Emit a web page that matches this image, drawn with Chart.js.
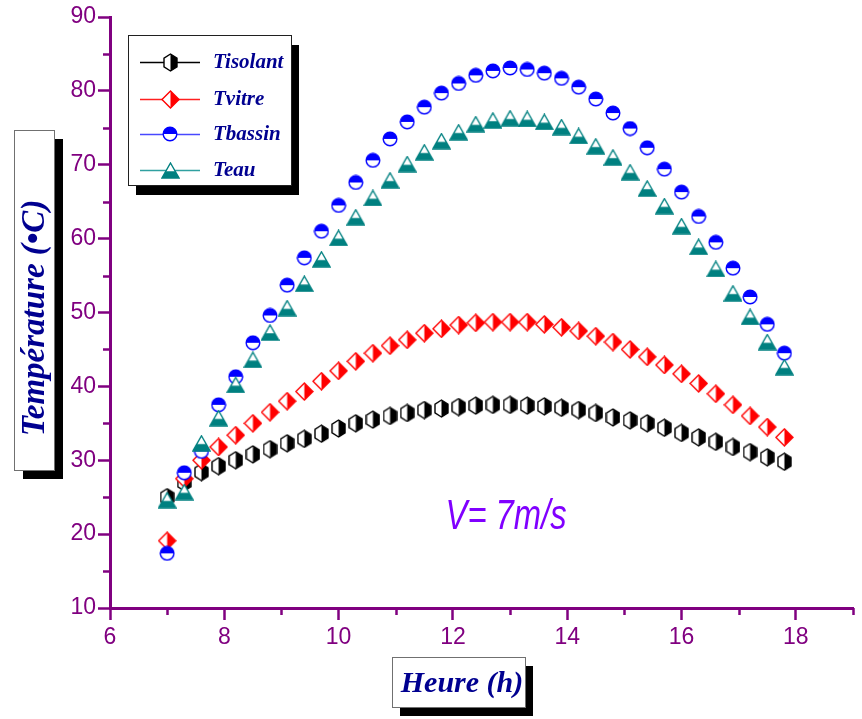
<!DOCTYPE html>
<html>
<head>
<meta charset="utf-8">
<script src="https://cdn.jsdelivr.net/npm/chart.js@4.4.1/dist/chart.umd.min.js"></script>
<style>
  html, body { margin: 0; padding: 0; background: #ffffff; }
  #wrap { width: 862px; height: 719px; }
  canvas { display: block; }
</style>
</head>
<body>
<div id="wrap"><canvas id="chart" width="862" height="719"></canvas></div>
<script>
// Time of day (h)
const hours = [7.0, 7.3, 7.6, 7.9, 8.2, 8.5, 8.8, 9.1, 9.4, 9.7, 10.0, 10.3, 10.6, 10.9, 11.2, 11.5, 11.8, 12.1, 12.4,
               12.7, 13.0, 13.3, 13.6, 13.9, 14.2, 14.5, 14.8, 15.1, 15.4, 15.7, 16.0, 16.3, 16.6, 16.9, 17.2, 17.5, 17.8];

// Temperatures (°C)
const tIsolant = [25.0, 27.0, 28.4, 29.2, 30.0, 30.8, 31.5, 32.3, 32.9, 33.6, 34.3, 35.0, 35.5, 36.0, 36.4, 36.8, 37.0, 37.2, 37.4,
                  37.5, 37.5, 37.4, 37.3, 37.1, 36.8, 36.4, 35.8, 35.4, 35.0, 34.4, 33.7, 33.1, 32.5, 31.8, 31.1, 30.4, 29.8];
const tVitre   = [19.1, 27.5, 30.0, 31.8, 33.4, 35.0, 36.5, 38.0, 39.3, 40.7, 42.1, 43.4, 44.5, 45.5, 46.3, 47.2, 47.8, 48.3, 48.6,
                  48.7, 48.7, 48.7, 48.4, 48.0, 47.5, 46.8, 46.0, 45.0, 44.0, 42.9, 41.7, 40.4, 39.0, 37.5, 36.0, 34.5, 33.1];
const tBassin  = [17.4, 28.3, 31.2, 37.5, 41.3, 45.9, 49.6, 53.7, 57.4, 61.0, 64.5, 67.6, 70.6, 73.5, 75.8, 77.8, 79.7, 81.0, 82.1,
                  82.7, 83.1, 82.9, 82.4, 81.7, 80.5, 78.9, 77.0, 74.9, 72.3, 69.4, 66.3, 63.0, 59.5, 56.0, 52.1, 48.4, 44.5];
const tEau     = [24.6, 25.7, 32.3, 35.7, 40.2, 43.6, 47.3, 50.6, 53.9, 57.2, 60.1, 62.9, 65.5, 67.9, 70.1, 71.7, 73.2, 74.4, 75.5,
                  76.0, 76.3, 76.2, 75.8, 75.1, 73.9, 72.5, 71.0, 69.0, 66.8, 64.4, 61.7, 58.9, 55.9, 52.6, 49.4, 46.0, 42.6];

const seriesNames = ['Tisolant', 'Tvitre', 'Tbassin', 'Teau'];
const xTitle = 'Heure (h)';
const yTitle = 'Température (•C)';
const speedLabel = 'V= 7m/s';
const speedLabelAt = { x: 12.93, y: 22.3 };

const AXIS = '#800080';
const NAVY = '#000090';
const SERIF = "'Liberation Serif', 'Times New Roman', serif";
const SANS = "'Liberation Sans', Arial, sans-serif";

// ---- half-filled marker glyphs ----
function marker(w, h, draw) {
  const c = document.createElement('canvas');
  c.width = w; c.height = h;
  draw(c.getContext('2d'), w, h);
  return c;
}
function halfFilled(g, w, h, path, color, clipRect) {
  path(); g.fillStyle = '#ffffff'; g.fill();
  g.save(); g.beginPath(); g.rect(...clipRect); g.clip();
  path(); g.fillStyle = color; g.fill(); g.restore();
  path(); g.lineWidth = 1.4; g.strokeStyle = color; g.stroke();
}
const hexMarker = marker(15, 19, (g, w, h) => {
  const p = () => { g.beginPath(); g.moveTo(w / 2, 1); g.lineTo(w - 1, h * 0.27); g.lineTo(w - 1, h * 0.73);
    g.lineTo(w / 2, h - 1); g.lineTo(1, h * 0.73); g.lineTo(1, h * 0.27); g.closePath(); };
  halfFilled(g, w, h, p, '#000000', [w / 2, 0, w / 2, h]);
});
const diamondMarker = marker(19, 19, (g, w, h) => {
  const p = () => { g.beginPath(); g.moveTo(w / 2, 1); g.lineTo(w - 1, h / 2); g.lineTo(w / 2, h - 1); g.lineTo(1, h / 2); g.closePath(); };
  halfFilled(g, w, h, p, '#ff0000', [w / 2, 0, w / 2, h]);
});
const circleMarker = marker(16, 16, (g, w, h) => {
  const p = () => { g.beginPath(); g.arc(w / 2, h / 2, 6.8, 0, Math.PI * 2); g.closePath(); };
  halfFilled(g, w, h, p, '#0000ff', [0, 0, w, h / 2]);
});
const triangleMarker = marker(19, 17, (g, w, h) => {
  const p = () => { g.beginPath(); g.moveTo(w / 2, 1); g.lineTo(w - 1, h - 1); g.lineTo(1, h - 1); g.closePath(); };
  halfFilled(g, w, h, p, '#008080', [0, h * 0.55, w, h]);
});

const legendLineColors = ['#000000', '#ff2020', '#4848ff', '#30a0a0'];

function pts(ys) { return hours.map((h, i) => ({ x: h, y: ys[i] })); }

// ---- decorations: minor ticks, framed titles, legend, annotation ----
function shadowBox(g, x, y, w, h, dx, dy, edge) {
  g.fillStyle = '#000000';
  g.fillRect(x + dx, y + dy, w, h);
  g.fillStyle = '#ffffff';
  g.fillRect(x, y, w, h);
  g.strokeStyle = edge; g.lineWidth = 1;
  g.strokeRect(x + 0.5, y + 0.5, w, h);
}

const decorations = {
  id: 'decorations',
  afterDraw(chart) {
    const g = chart.ctx;
    const xs = chart.scales.x, ys = chart.scales.y;

    // minor ticks
    g.save();
    g.strokeStyle = AXIS; g.lineWidth = 2.5;
    xs.ticks.forEach(t => {
      if (t.value % 2 !== 0) {
        const px = Math.round(xs.getPixelForValue(t.value)) + 0.5;
        g.beginPath(); g.moveTo(px, chart.chartArea.bottom); g.lineTo(px, chart.chartArea.bottom + 7); g.stroke();
      }
    });
    ys.ticks.forEach(t => {
      if (t.value % 10 !== 0) {
        const py = Math.round(ys.getPixelForValue(t.value)) + 0.5;
        g.beginPath(); g.moveTo(chart.chartArea.left, py); g.lineTo(chart.chartArea.left - 7, py); g.stroke();
      }
    });
    g.restore();

    // y axis title
    g.save();
    shadowBox(g, 14, 130, 40, 340, 9, 9, '#707070');
    g.translate(35, 318);
    g.rotate(-Math.PI / 2);
    g.fillStyle = NAVY;
    g.font = `bold italic 33px ${SERIF}`;
    g.textAlign = 'center'; g.textBaseline = 'middle';
    g.fillText(yTitle, 0, 0);
    g.restore();

    // x axis title
    g.save();
    shadowBox(g, 392, 657, 133, 50, 8, 9, '#707070');
    g.fillStyle = NAVY;
    g.font = `bold italic 30px ${SERIF}`;
    g.textAlign = 'center'; g.textBaseline = 'middle';
    g.fillText(xTitle, 462, 684);
    g.restore();

    // legend
    g.save();
    shadowBox(g, 128, 35, 163, 150, 8, 10, '#202020');
    const rows = [62, 99, 134, 170];
    chart.data.datasets.forEach((ds, i) => {
      const yy = rows[i];
      g.strokeStyle = legendLineColors[i]; g.lineWidth = 1.5;
      g.beginPath(); g.moveTo(140, yy + 0.5); g.lineTo(200, yy + 0.5); g.stroke();
      const img = ds.pointStyle;
      g.drawImage(img, Math.round(170 - img.width / 2), Math.round(yy - img.height / 2));
      g.fillStyle = NAVY;
      g.font = `bold italic 21px ${SERIF}`;
      g.textAlign = 'left'; g.textBaseline = 'middle';
      g.fillText(ds.label, 213, yy + 1);
    });
    g.restore();

    // wind speed annotation
    g.save();
    const ax = xs.getPixelForValue(speedLabelAt.x), ay = ys.getPixelForValue(speedLabelAt.y);
    g.translate(ax, ay);
    g.scale(0.78, 1);
    g.fillStyle = '#8000ff';
    g.font = `italic 42px ${SANS}`;
    g.textAlign = 'center'; g.textBaseline = 'middle';
    g.fillText(speedLabel, 0, 0);
    g.restore();
  }
};

const markers = [hexMarker, diamondMarker, circleMarker, triangleMarker];
const values = [tIsolant, tVitre, tBassin, tEau];
const colors = ['#000000', '#ff0000', '#0000ff', '#008080'];

new Chart(document.getElementById('chart'), {
  type: 'scatter',
  data: {
    datasets: seriesNames.map((name, i) => ({
      label: name,
      data: pts(values[i]),
      pointStyle: markers[i],
      pointRadius: 8,
      pointHoverRadius: 8,
      borderColor: colors[i],
      backgroundColor: colors[i],
      showLine: false,
      order: 4 - i
    }))
  },
  options: {
    responsive: false,
    animation: false,
    devicePixelRatio: 1,
    layout: { padding: { top: 17, right: 7, left: 0, bottom: 0 } },
    plugins: { legend: { display: false }, tooltip: { enabled: true } },
    scales: {
      x: {
        type: 'linear', min: 6, max: 19,
        border: { display: true, color: AXIS, width: 3 },
        grid: {
          drawOnChartArea: false, drawTicks: true, tickLength: 12, tickWidth: 2.5,
          tickColor: c => (c.tick && c.tick.value % 2 === 0) ? AXIS : 'rgba(0,0,0,0)'
        },
        ticks: {
          stepSize: 1, autoSkip: false, maxRotation: 0, padding: 4,
          color: AXIS, font: { family: SANS, size: 23 },
          callback: v => (v % 2 === 0 ? String(v) : '')
        },
        afterFit: s => { s.height = 111; }
      },
      y: {
        type: 'linear', min: 10, max: 90,
        border: { display: true, color: AXIS, width: 3 },
        grid: {
          drawOnChartArea: false, drawTicks: true, tickLength: 12, tickWidth: 2.5,
          tickColor: c => (c.tick && c.tick.value % 10 === 0) ? AXIS : 'rgba(0,0,0,0)'
        },
        ticks: {
          stepSize: 5, autoSkip: false, padding: 2,
          color: AXIS, font: { family: SANS, size: 23 },
          callback: v => (v % 10 === 0 ? String(v) : '')
        },
        afterFit: s => { s.width = 110; }
      }
    }
  },
  plugins: [decorations]
});
</script>
</body>
</html>
